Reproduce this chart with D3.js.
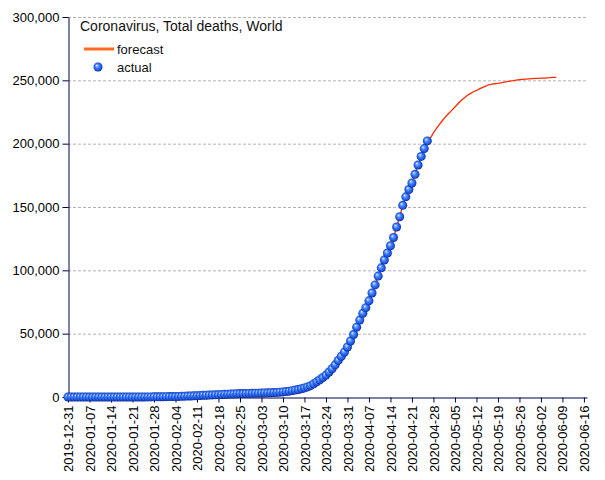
<!DOCTYPE html>
<html>
<head>
<meta charset="utf-8">
<script src="https://cdn.jsdelivr.net/npm/d3@7"></script>
<style>
  html, body { margin: 0; padding: 0; background: #fff; }
  svg { display: block; }
  text { font-family: "Liberation Sans", Arial, sans-serif; }
</style>
</head>
<body>
<svg id="chart" width="605" height="480"></svg>
<script>
// ---------- DATA ----------
const titleText = "Coronavirus, Total deaths, World";
const seriesNames = ["forecast", "actual"];
const actualStart = "2019-12-31";
// daily cumulative deaths, 2019-12-31 .. 2020-04-26
const actualValues = [
  0,
  0,0,0,0,0,0,0,0,0,0,
  1,1,1,1,2,2,2,3,3,3,6,17,18,26,42,56,82,106,132,170,213,
  259,305,362,426,492,565,638,724,813,910,1018,1115,1369,1384,1526,1669,1775,1873,2009,2126,2247,2360,2460,2618,2699,2763,2800,2858,2923,
  2977,3050,3117,3202,3285,3387,3494,3599,3827,4025,4296,4628,4981,5428,5833,6520,7161,7963,8960,10400,11981,13655,15428,17271,19769,22288,25411,28872,32175,35476,39512,
  44253,49356,55164,60730,66065,70522,75891,82144,88481,95449,101980,108166,113678,119422,125928,134235,142326,151286,158011,163813,168966,175768,183174,189963,196116,202179
];
const forecastStart = "2020-03-20";
// daily forecast, 2020-03-20 .. 2020-06-07
const forecastValues = [
  10400,11981,13655,15428,17271,19769,22288,25411,28872,32175,35476,39512,
  44253,49356,55164,60730,66065,70522,75891,82144,88481,95449,101980,108166,113678,119422,125928,134235,142326,151286,158011,163813,168966,175768,183174,189963,196116,202179,
  204500,208500,212000,215500,218500,221500,224000,226500,229000,231500,234000,236000,238000,239500,241000,242000,243300,244500,245500,246500,247000,247300,247600,248000,248500,249000,249400,249700,250100,250500,250800,251000,251200,251400,251500,251600,251700,251800,252000,252100,252300,252400
];
const xTickLabels = [
  "2019-12-31","2020-01-07","2020-01-14","2020-01-21","2020-01-28","2020-02-04","2020-02-11",
  "2020-02-18","2020-02-25","2020-03-03","2020-03-10","2020-03-17","2020-03-24","2020-03-31",
  "2020-04-07","2020-04-14","2020-04-21","2020-04-28","2020-05-05","2020-05-12","2020-05-19",
  "2020-05-26","2020-06-02","2020-06-09","2020-06-16"
];
const xDomain = ["2019-12-31", "2020-06-17"];
const yTicks = [0, 50000, 100000, 150000, 200000, 250000, 300000];
const yDomain = [0, 300000];

// ---------- LAYOUT ----------
const parse = d3.utcParse("%Y-%m-%d");
const svg = d3.select("#chart");
const mLeft = 68, mRight = 587, mTop = 17, mBottom = 397;
const axisColor = "#000044";

const x = d3.scaleUtc().domain(xDomain.map(parse)).range([mLeft, mRight]);
const y = d3.scaleLinear().domain(yDomain).range([mBottom, mTop]);

const actual = actualValues.map((v, i) => ({ date: d3.utcDay.offset(parse(actualStart), i), value: v }));
const forecast = forecastValues.map((v, i) => ({ date: d3.utcDay.offset(parse(forecastStart), i), value: v }));

// gradient for spheres
const defs = svg.append("defs");
const grad = defs.append("radialGradient").attr("id", "ball")
  .attr("cx", "0.5").attr("cy", "0.5").attr("r", "0.55")
  .attr("fx", "0.35").attr("fy", "0.32");
grad.append("stop").attr("offset", "0%").attr("stop-color", "#ffffff");
grad.append("stop").attr("offset", "18%").attr("stop-color", "#8cb6ff");
grad.append("stop").attr("offset", "45%").attr("stop-color", "#3a7cff");
grad.append("stop").attr("offset", "78%").attr("stop-color", "#1a4fd8");
grad.append("stop").attr("offset", "100%").attr("stop-color", "#001060");

// gridlines
svg.append("g").selectAll("line")
  .data(yTicks.filter(d => d > 0))
  .join("line")
  .attr("x1", mLeft).attr("x2", mRight)
  .attr("y1", d => y(d) + 0.5).attr("y2", d => y(d) + 0.5)
  .attr("stroke", "#b2b2b2").attr("stroke-width", 1)
  .attr("stroke-dasharray", "3,2");

// y axis
const yAxis = svg.append("g")
  .attr("transform", `translate(${mLeft + 0.5},0)`)
  .call(d3.axisLeft(y).tickValues(yTicks).tickFormat(d3.format(",")).tickSize(6).tickPadding(3).tickSizeOuter(0));
yAxis.selectAll("path, line").attr("stroke", axisColor);
yAxis.selectAll("text").attr("font-size", 13).attr("fill", "#000")
  .attr("font-family", "'Liberation Sans', Arial, sans-serif");

// x axis
const xAxis = svg.append("g")
  .attr("transform", `translate(0,${mBottom + 0.5})`)
  .call(d3.axisBottom(x).tickValues(xTickLabels.map(parse)).tickFormat(d3.utcFormat("%Y-%m-%d")).tickSize(5).tickSizeOuter(0));
xAxis.selectAll("path, line").attr("stroke", axisColor);
xAxis.selectAll("text")
  .attr("font-size", 13).attr("fill", "#000")
  .attr("font-family", "'Liberation Sans', Arial, sans-serif")
  .attr("text-anchor", "end")
  .attr("transform", "rotate(-90)")
  .attr("x", -8).attr("y", 0).attr("dy", "0.35em");

// forecast line
svg.append("path")
  .datum(forecast)
  .attr("fill", "none")
  .attr("stroke", "#ff2a00")
  .attr("stroke-width", 1.3)
  .attr("d", d3.line().x(d => x(d.date)).y(d => y(d.value)));

// actual points
svg.append("g").selectAll("circle")
  .data(actual)
  .join("circle")
  .attr("cx", d => x(d.date))
  .attr("cy", d => y(d.value))
  .attr("r", 4.5)
  .attr("fill", "url(#ball)");

// title & legend
svg.append("text").attr("x", 80).attr("y", 31)
  .attr("font-size", 14).attr("fill", "#111")
  .attr("font-family", "'DejaVu Sans', sans-serif")
  .text(titleText);

svg.append("line").attr("x1", 84).attr("x2", 114).attr("y1", 49).attr("y2", 49)
  .attr("stroke", "#ff6a20").attr("stroke-width", 3);
svg.append("text").attr("x", 117).attr("y", 53.5)
  .attr("font-size", 13).attr("fill", "#111")
  .attr("font-family", "'DejaVu Sans', sans-serif")
  .text(seriesNames[0]);
svg.append("circle").attr("cx", 98).attr("cy", 67).attr("r", 4.5).attr("fill", "url(#ball)");
svg.append("text").attr("x", 117).attr("y", 72)
  .attr("font-size", 13).attr("fill", "#111")
  .attr("font-family", "'DejaVu Sans', sans-serif")
  .text(seriesNames[1]);
</script>
</body>
</html>
